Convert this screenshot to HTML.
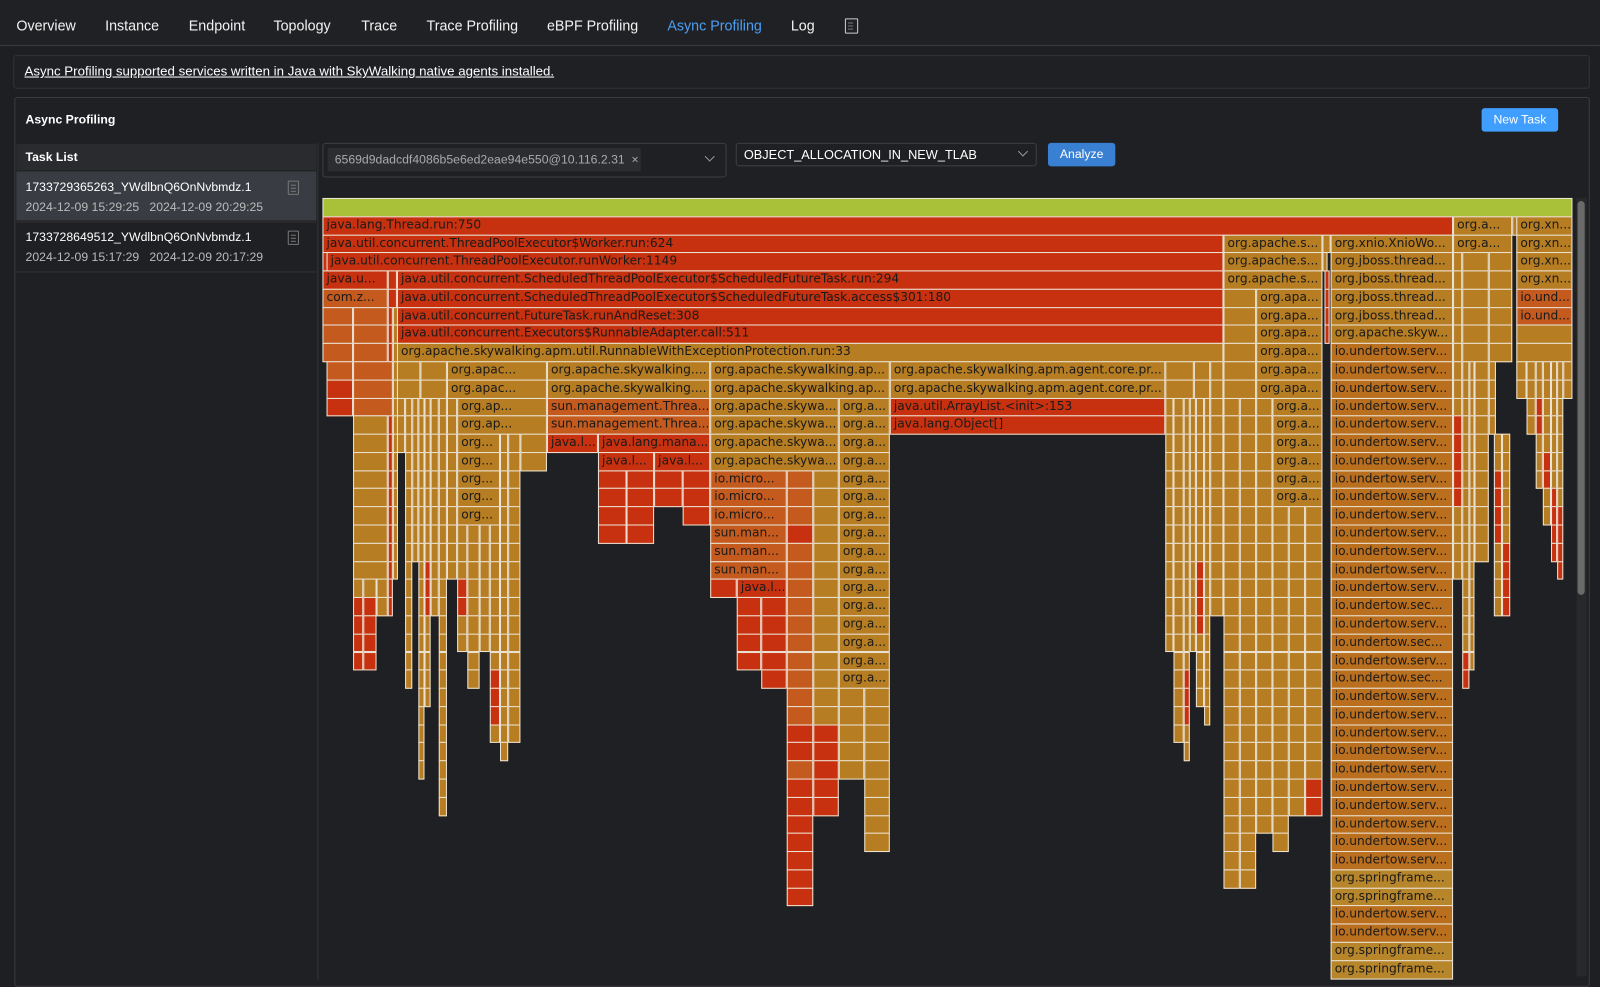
<!DOCTYPE html>
<html><head><meta charset="utf-8">
<style>
html,body{margin:0;padding:0;background:#1e1f22;overflow:hidden;width:1600px;height:976px}
#s{position:absolute;left:0;top:0;width:1568px;height:957px;transform:scale(1.020408);transform-origin:0 0;font-family:"Liberation Sans",sans-serif;color:#fff}
.a{position:absolute}
.nav span{position:absolute;top:17px;font-size:14px;color:#f2f2f2}
.c{position:absolute;box-sizing:border-box;border:1px solid #ece4d6;font-family:"DejaVu Sans",sans-serif;font-size:12px;color:#1a1a1a;white-space:nowrap;overflow:hidden;line-height:15px;padding-left:3px}
.doc{position:absolute;border:1.3px solid #777;border-radius:1px}
.doc:before{content:"";position:absolute;left:2px;top:3px;width:5px;height:1px;background:#777;box-shadow:0 3px 0 #777,0 6px 0 #777}
</style></head><body>
<div id="s">
 <div class="a" style="left:0;top:0;width:1568px;height:44px;background:#202124;border-bottom:1px solid #3a3b3e"></div>
 <div class="nav">
  <span style="left:16px">Overview</span><span style="left:103px">Instance</span><span style="left:185px">Endpoint</span><span style="left:268px">Topology</span><span style="left:354px">Trace</span><span style="left:418px">Trace Profiling</span><span style="left:536px">eBPF Profiling</span><span style="left:654px;color:#4c9ef5">Async Profiling</span><span style="left:775px">Log</span>
 </div>
 <div class="doc" style="left:828px;top:18px;width:11px;height:13px;border-color:#ccc"></div>
 <div class="a" style="left:13px;top:54px;width:1543px;height:31px;border:1px solid #333437;border-radius:3px;background:#1f2023"></div>
 <div class="a" style="left:24px;top:62px;font-size:13px;text-decoration:underline">Async Profiling supported services written in Java with SkyWalking native agents installed.</div>
 <div class="a" style="left:14px;top:95px;width:1542px;height:870px;border:1px solid #3a3b3e;border-radius:3px;background:#1f2023"></div>
 <div class="a" style="left:25px;top:110px;font-size:12px;font-weight:bold">Async Profiling</div>
 <div class="a" style="left:1452px;top:106px;width:75px;height:23px;background:#409eff;border-radius:3px;font-size:12px;text-align:center;line-height:23px">New Task</div>
 <div class="a" style="left:16px;top:140px;width:295px;height:820px;border-right:1px solid #333437"></div>
 <div class="a" style="left:16px;top:141px;width:294px;height:26px;background:#2a2b2f"></div>
 <div class="a" style="left:25px;top:147px;font-size:12px;font-weight:bold">Task List</div>
 <div class="a" style="left:16px;top:168px;width:294px;height:48px;background:#393c43"></div>
 <div class="a" style="left:16px;top:217px;width:294px;height:1px;background:#333"></div>
 <div class="a" style="left:16px;top:266px;width:294px;height:1px;background:#333"></div>
 <div class="a" style="left:25px;top:176px;font-size:12px">1733729365263_YWdlbnQ6OnNvbmdz.1</div>
 <div class="a" style="left:25px;top:196px;font-size:12px;color:#bbb">2024-12-09 15:29:25&nbsp;&nbsp;&nbsp;2024-12-09 20:29:25</div>
 <div class="a" style="left:25px;top:225px;font-size:12px">1733728649512_YWdlbnQ6OnNvbmdz.1</div>
 <div class="a" style="left:25px;top:245px;font-size:12px;color:#bbb">2024-12-09 15:17:29&nbsp;&nbsp;&nbsp;2024-12-09 20:17:29</div>
 <div class="doc" style="left:282px;top:177px;width:9px;height:12px"></div>
 <div class="doc" style="left:282px;top:226px;width:9px;height:12px"></div>
 <div class="a" style="left:316px;top:140px;width:394px;height:32px;border:1px solid #3d3e42;border-radius:3px"></div>
 <div class="a" style="left:321px;top:145px;width:307px;height:23px;background:#2c2d31;border-radius:2px;font-size:12px;color:#aaa;line-height:23px;padding-left:7px;box-sizing:border-box">6569d9dadcdf4086b5e6ed2eae94e550@10.116.2.31 &nbsp;×</div>
 <div class="a" style="left:692px;top:150px;width:6px;height:6px;border-right:1px solid #999;border-bottom:1px solid #999;transform:rotate(45deg)"></div>
 <div class="a" style="left:721px;top:140px;width:295px;height:23px;border:1px solid #3d3e42;border-radius:3px;font-size:12.5px;line-height:23px;padding-left:7px;box-sizing:border-box">OBJECT_ALLOCATION_IN_NEW_TLAB</div>
 <div class="a" style="left:999px;top:145px;width:6px;height:6px;border-right:1px solid #999;border-bottom:1px solid #999;transform:rotate(45deg)"></div>
 <div class="a" style="left:1027px;top:140px;width:66px;height:23px;background:#3a80d2;border-radius:3px;font-size:12px;line-height:23px;text-align:center">Analyze</div>
 <div class="a" style="left:1545px;top:194px;width:10px;height:763px;background:#29292b"></div>
 <div class="a" style="left:1546px;top:197px;width:7px;height:386px;background:#6a6a6a;border-radius:4px"></div>
 <div id="fg"></div>
</div>
<script>
var R='#c8310f',O='#c45a1e',G='#b67d22',B='#b96f1e',Y='#b8862a',GR='#a9c139';
var fg=document.getElementById('fg'),H=17.78;
function c(r,x1,x2,col,t){var d=document.createElement('div');d.className='c';d.style.left=x1+'px';d.style.top=(194+r*H)+'px';d.style.width=(x2-x1)+'px';d.style.height=(H+1)+'px';d.style.background=col;if(t)d.textContent=t;fg.appendChild(d);}
function S(x1,x2,r1,r2,col,t,reds){for(var r=r1;r<=r2;r++){var cc=col;if(reds&&reds.indexOf(r)>=0)cc=R;c(r,x1,x2,cc,typeof t=='function'?t(r):t);}}
c(0,316,1541,GR,'');
c(1,316,1424,R,'java.lang.Thread.run:750');c(1,1424,1482,G,'org.a...');c(1,1482,1486,G);c(1,1486,1541,G,'org.xn...');
c(2,316,1199,R,'java.util.concurrent.ThreadPoolExecutor$Worker.run:624');c(2,1199,1296,G,'org.apache.s...');c(2,1296,1304,G);c(2,1304,1424,G,'org.xnio.XnioWo...');c(2,1424,1482,G,'org.a...');c(2,1486,1541,G,'org.xn...');
c(3,316,320,R);c(3,320,1199,R,'java.util.concurrent.ThreadPoolExecutor.runWorker:1149');
c(4,316,380,R,'java.u...');c(4,380,389,R);c(4,389,1199,R,'java.util.concurrent.ScheduledThreadPoolExecutor$ScheduledFutureTask.run:294');
c(5,316,380,O,'com.z...');c(5,380,389,R);c(5,389,1199,R,'java.util.concurrent.ScheduledThreadPoolExecutor$ScheduledFutureTask.access$301:180');
c(6,389,1199,R,'java.util.concurrent.FutureTask.runAndReset:308');
c(7,389,1199,R,'java.util.concurrent.Executors$RunnableAdapter.call:511');
c(8,389,1199,G,'org.apache.skywalking.apm.util.RunnableWithExceptionProtection.run:33');
S(316,346,6,8,O);S(346,380,6,8,O);S(380,385,6,22,R);S(385,389,6,20,G);
S(320,346,9,9,O);S(320,346,10,11,R);S(346,385,9,11,O);
S(346,380,12,20,G);S(346,356,21,21,G);S(356,369,21,21,G);S(369,380,21,22,G);S(346,356,22,25,R);S(356,369,22,25,R);
for(var r=3;r<=7;r++){if(r>=5){c(r,1199,1231,G);c(r,1231,1296,G,'org.apa...');}else if(r>2){c(r,1199,1296,G,'org.apache.s...');}}
S(1296,1300,3,3,G);S(1298,1302,4,7,R);
c(3,1304,1424,G,'org.jboss.thread...');c(4,1304,1424,G,'org.jboss.thread...');c(5,1304,1424,G,'org.jboss.thread...');c(6,1304,1424,G,'org.jboss.thread...');c(7,1304,1424,G,'org.apache.skyw...');
[9,10].forEach(function(r){c(r,389,412,G);c(r,412,438,G);c(r,438,536,G,'org.apac...');c(r,536,696,G,'org.apache.skywalking....');c(r,696,872,G,'org.apache.skywalking.ap...');c(r,872,1142,G,'org.apache.skywalking.apm.agent.core.pr...');c(r,1142,1170,G);c(r,1170,1186,G);c(r,1186,1199,G);});
S(1199,1231,8,10,G);S(1231,1296,8,10,G,'org.apa...');
S(1199,1215,11,37,G);S(1215,1231,11,37,G);S(1231,1247,11,34,G);S(1247,1296,11,16,G,'org.a...');S(1247,1263,17,35,G);S(1263,1279,17,33,G);S(1279,1296,17,33,G,'',[32,33]);
S(389,397,11,13,G);S(397,404,11,26,G);S(404,410,11,19,G);S(410,416,11,31,G);S(416,422,11,27,G,'',[20,21,22]);S(422,430,11,22,G);S(430,438,11,33,G);S(438,448,11,20,G);
S(448,536,11,12,G,'org.ap...');S(448,490,13,17,G,'org...');S(490,498,13,17,G);S(498,510,13,17,G);S(510,536,13,14,G);
S(448,458,18,24,G,'',[21,22]);S(458,470,18,26,G);S(470,480,18,24,G);S(480,490,18,29,G,'',[26,27,28]);S(490,498,18,30,G,'',[]);S(498,510,18,29,G);
S(536,696,11,12,O,'sun.management.Threa...');c(13,536,586,R,'java.l...');c(13,586,696,R,'java.lang.mana...');c(14,586,641,R,'java.l...');c(14,641,696,R,'java.l...');
S(586,614,15,18,R);S(614,641,15,18,R);S(641,669,15,16,R);S(669,696,15,17,R);
S(696,822,11,14,G,'org.apache.skywa...');S(822,872,11,26,G,'org.a...');
S(696,771,15,17,O,'io.micro...');S(696,771,18,20,O,'sun.man...');S(771,797,15,31,O,'',[18,29,30]);S(797,822,15,28,G);
c(21,696,722,R);c(21,722,771,R,'java.l...');S(722,746,22,25,R);S(746,771,22,26,R);
S(797,822,29,33,R);S(771,797,32,38,R);S(822,847,27,31,G);S(847,872,27,35,G);
c(11,872,1142,R,'java.util.ArrayList.<init>:153');c(12,872,1142,R,'java.lang.Object[]');
S(1142,1150,11,24,G);S(1150,1160,11,29,G);S(1160,1166,11,30,G,'',[26,27,28]);S(1166,1172,11,24,G);S(1172,1180,11,27,G,'',[20,21,22,23]);S(1180,1186,11,28,G);S(1186,1199,11,22,G);
S(1304,1424,8,21,B,'io.undertow.serv...');
var lab={22:'io.undertow.sec...',24:'io.undertow.sec...',26:'io.undertow.sec...',37:'org.springframe...',38:'org.springframe...',41:'org.springframe...',42:'org.springframe...'};
for(var r=22;r<=42;r++){c(r,1304,1424,lab[r]&&lab[r].indexOf('spring')>0?Y:B,lab[r]||'io.undertow.serv...');}
for(var r=3;r<=8;r++){c(r,1424,1433,G);c(r,1433,1459,G);c(r,1459,1482,G);}
S(1424,1433,9,20,G,'',[12,13,14,15,16]);S(1433,1440,9,26,G,'',[25,26]);S(1440,1445,9,25,G);S(1445,1459,9,19,G);S(1459,1466,9,12,G);S(1464,1472,13,22,G,'',[15,16,17,18]);S(1472,1480,13,22,G,'',[19,20,21,22]);
c(3,1486,1541,G,'org.xn...');c(4,1486,1541,G,'org.xn...');c(5,1486,1541,O,'io.und...');c(6,1486,1541,O,'io.und...');
S(1486,1541,7,8,G);S(1486,1496,9,10,G);S(1496,1505,9,12,G);S(1505,1512,9,15,G,'',[11,12]);S(1512,1520,9,17,G,'',[14,15]);S(1520,1526,9,19,G,'',[16,17,18,19]);S(1526,1532,9,20,G,'',[17,18,19,20]);S(1532,1541,9,10,G);
</script>
</body></html>
